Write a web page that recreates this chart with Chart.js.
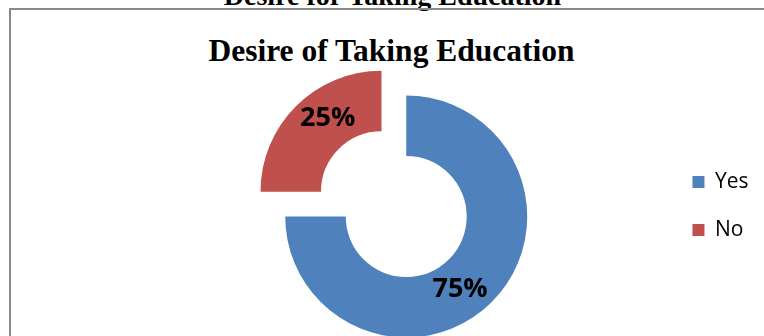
<!DOCTYPE html>
<html>
<head>
<meta charset="utf-8">
<title>Desire of Taking Education</title>
<script src="https://cdn.jsdelivr.net/npm/chart.js@4.4.1/dist/chart.umd.min.js"></script>
<style>
  html, body { margin: 0; padding: 0; background: #fff; overflow: hidden; }
  body { width: 764px; height: 336px; position: relative; }
  .doc-heading {
    position: absolute; left: 0; top: -18px; width: 785px;
    text-align: center; font: bold 28px/1 "Liberation Serif", "Times New Roman", serif;
    color: #000; white-space: nowrap;
  }
  .frame {
    position: absolute; left: 9px; top: 8px; width: 800px; height: 400px;
    border-left: 2px solid #8a8a8a; border-top: 2px solid #8a8a8a;
  }
  .chart-title {
    position: absolute; left: 0; top: 35px; width: 783px;
    text-align: center; font: bold 31.5px/1 "Liberation Serif", "Times New Roman", serif;
    color: #000; white-space: nowrap;
  }
  .chart-box { position: absolute; left: 0; top: 0; width: 764px; height: 420px; }
</style>
</head>
<body>
<div class="doc-heading">Desire for Taking Education</div>
<div class="frame"></div>
<div class="chart-title">Desire of Taking Education</div>
<div class="chart-box"><canvas id="desireChart"></canvas></div>
<script>
const categories = ["Yes", "No"];
const shares = [75, 25];
const sliceColors = ["#4F81BD", "#C0504D"];

// percentage text on each ring segment
const sliceLabels = {
  id: "sliceLabels",
  afterDatasetsDraw(chart) {
    const ctx = chart.ctx;
    const meta = chart.getDatasetMeta(0);
    ctx.save();
    ctx.font = "bold 27px 'Open Sans', sans-serif";
    ctx.fillStyle = "#000";
    ctx.textAlign = "center";
    ctx.textBaseline = "middle";
    meta.data.forEach((arc, i) => {
      const p = arc.getProps(["x", "y", "startAngle", "endAngle", "innerRadius", "outerRadius"], true);
      const mid = (p.startAngle + p.endAngle) / 2;
      // ArcElement pulls an offset slice out by a quarter of its offset option
      const off = (arc.options.offset || 0) / 4;
      const turn = mid + 0.15;
      const r = (p.innerRadius + p.outerRadius) / 2;
      const x = p.x + Math.cos(mid) * off + Math.cos(turn) * r;
      const y = p.y + Math.sin(mid) * off + Math.sin(turn) * r;
      ctx.fillText(shares[i] + "%", x, y);
    });
    ctx.restore();
  }
};

// lift the legend a little above the ring's centre line
const legendLift = {
  id: "legendLift",
  afterLayout(chart) {
    chart.legend.top -= 10.5;
    chart.legend.bottom -= 10.5;
  }
};

const ctx = document.getElementById("desireChart").getContext("2d");
const desireChart = new Chart(ctx, {
  type: "doughnut",
  data: {
    labels: categories,
    datasets: [
      {
        data: shares,
        backgroundColor: sliceColors,
        borderWidth: 0,
        offset: [0, 140],
        cutout: "50%",
      },
    ],
  },
  options: {
    responsive: true,
    maintainAspectRatio: false,
    devicePixelRatio: 1,
    animation: false,
    layout: {
      padding: { top: 25.5, bottom: 12.5, left: 147, right: 5.5 },
    },
    plugins: {
      legend: {
        position: "right",
        labels: {
          boxWidth: 12,
          boxHeight: 12,
          padding: 27,
          color: "#000",
          font: { family: "'Open Sans', sans-serif", size: 21 },
        },
      },
      tooltip: { enabled: false },
      title: { display: false },
    },
  },
  plugins: [sliceLabels, legendLift],
});
</script>
</body>
</html>
